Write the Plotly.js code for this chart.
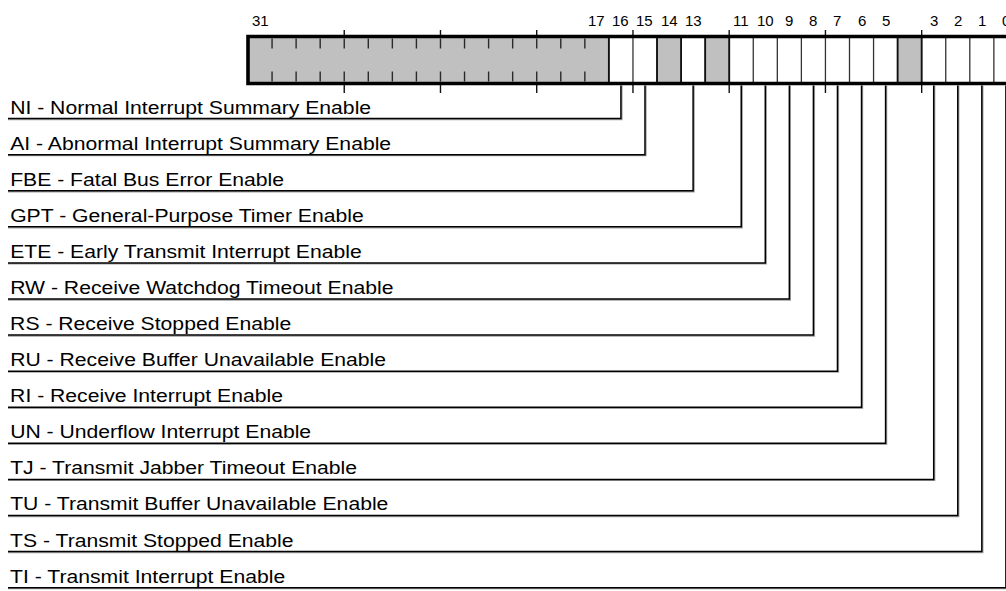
<!DOCTYPE html>
<html>
<head>
<meta charset="utf-8">
<script src="https://cdn.plot.ly/plotly-3.0.1.min.js"></script>
<style>
html,body{margin:0;padding:0;background:#fff;}
#chart{width:1006px;height:591px;}
</style>
</head>
<body>
<div id="chart"></div>
<script>
// ---- data ----
const bitLabels = [31, 17, 16, 15, 14, 13, 11, 10, 9, 8, 7, 6, 5, 3, 2, 1, 0];
const reservedRanges = [[17, 31], [14, 14], [12, 12], [4, 4]];
const fieldNames = [
  "NI - Normal Interrupt Summary Enable",
  "AI - Abnormal Interrupt Summary Enable",
  "FBE - Fatal Bus Error Enable",
  "GPT - General-Purpose Timer Enable",
  "ETE - Early Transmit Interrupt Enable",
  "RW - Receive Watchdog Timeout Enable",
  "RS - Receive Stopped Enable",
  "RU - Receive Buffer Unavailable Enable",
  "RI - Receive Interrupt Enable",
  "UN - Underflow Interrupt Enable",
  "TJ - Transmit Jabber Timeout Enable",
  "TU - Transmit Buffer Unavailable Enable",
  "TS - Transmit Stopped Enable",
  "TI - Transmit Interrupt Enable"
];
const fieldBits = [16, 15, 13, 11, 10, 9, 8, 7, 6, 5, 3, 2, 1, 0];

// ---- layout constants ----
const W = 24.06;          // pixel width of one bit cell
const X0 = 248;           // pixel x of the left edge of bit 31
const BOX_TOP = 36.5, BOX_BOT = 83.5;
const ROW0 = 118.6, ROW_STEP = 36.08;
const TEXT_X = 9;
function uOf(px) { return 32 - (px - X0) / W; }
const pxU = 1 / W;

const shapes = [];
// gray reserved fills
const edgesOfGray = new Set();
reservedRanges.forEach(([lo, hi]) => {
  edgesOfGray.add(lo); edgesOfGray.add(hi + 1);
  shapes.push({type: 'rect', xref: 'x', yref: 'y', x0: hi + 1, x1: lo, y0: BOX_TOP, y1: BOX_BOT,
    fillcolor: '#c0c0c0', line: {width: 0}, layer: 'below'});
});
// dividers
const grayLo = reservedRanges[0][0];
for (let u = 1; u <= 31; u++) {
  if (u <= grayLo) {
    shapes.push({type: 'line', xref: 'x', yref: 'y', x0: u, x1: u, y0: BOX_TOP, y1: BOX_BOT,
      line: {color: edgesOfGray.has(u) ? '#111' : '#333', width: edgesOfGray.has(u) ? 1.9 : 1.3}});
  } else {
    shapes.push({type: 'line', xref: 'x', yref: 'y', x0: u, x1: u, y0: BOX_TOP + 2, y1: BOX_TOP + 12,
      line: {color: '#2a2a2a', width: 1.4}});
    shapes.push({type: 'line', xref: 'x', yref: 'y', x0: u, x1: u, y0: BOX_BOT - 12, y1: BOX_BOT - 2,
      line: {color: '#2a2a2a', width: 1.4}});
  }
}
// major ticks every 4 bits
for (let u = 4; u < 32; u += 4) {
  shapes.push({type: 'line', xref: 'x', yref: 'y', x0: u, x1: u, y0: 30, y1: BOX_TOP,
    line: {color: '#111', width: 1.4}});
  shapes.push({type: 'line', xref: 'x', yref: 'y', x0: u, x1: u, y0: BOX_BOT, y1: 93,
    line: {color: '#111', width: 1.4}});
}
// outer box
shapes.push({type: 'rect', xref: 'x', yref: 'y', x0: 32, x1: 0, y0: BOX_TOP, y1: BOX_BOT,
  line: {color: '#000', width: 3.6}, fillcolor: 'rgba(0,0,0,0)'});

// leader lines
const lx = [], ly = [], sx = [], sy = [];
fieldBits.forEach((b, i) => {
  const y = ROW0 + i * ROW_STEP;
  const xc = b + 0.5;
  lx.push(uOf(TEXT_X - 1), xc, xc, null);
  ly.push(y, y, BOX_BOT + 2, null);
  sx.push(uOf(TEXT_X - 1), xc - pxU, xc - pxU, null);
  sy.push(y + 1, y + 1, BOX_BOT + 2, null);
});
const traces = [
  {x: sx, y: sy, mode: 'lines', line: {color: '#a0a0a0', width: 1.3}, hoverinfo: 'skip', showlegend: false},
  {x: lx, y: ly, mode: 'lines', line: {color: '#000', width: 1.5}, hoverinfo: 'skip', showlegend: false}
];

const annotations = [];
fieldNames.forEach((name, i) => {
  annotations.push({xref: 'x', yref: 'y', x: uOf(TEXT_X - 1), y: ROW0 + i * ROW_STEP - 11,
    text: name, showarrow: false, xanchor: 'left', yanchor: 'middle',
    font: {family: 'Liberation Sans, Arial, sans-serif', size: 17.5, color: '#000'}});
});
bitLabels.forEach(b => {
  annotations.push({xref: 'x', yref: 'y', x: b + 0.5, y: 20, text: String(b), showarrow: false,
    xanchor: 'center', yanchor: 'middle',
    font: {family: 'Liberation Sans, Arial, sans-serif', size: 15, color: '#000'}});
});

const layout = {
  width: 1006, height: 591,
  margin: {l: 0, r: 0, t: 0, b: 0},
  paper_bgcolor: '#fff', plot_bgcolor: '#fff',
  xaxis: {range: [uOf(0), uOf(1006)], visible: false, showgrid: false, zeroline: false, fixedrange: true},
  yaxis: {range: [591, 0], visible: false, showgrid: false, zeroline: false, fixedrange: true},
  shapes: shapes,
  annotations: annotations,
  showlegend: false
};

Plotly.newPlot('chart', traces, layout, {staticPlot: true}).then(() => {
  // stretch the field-name texts horizontally to match the reference's wide lettering
  const S = 1.21;
  document.querySelectorAll('#chart .annotation').forEach(g => {
    const idx = +g.getAttribute('data-index');
    if (idx < fieldNames.length) {
      const t = g.querySelector('text.annotation-text');
      if (t) {
        const left = t.getBBox().x;
        t.setAttribute('transform', 'matrix(' + S + ',0,0,1,' + ((1 - S) * left) + ',0)');
      }
    }
  });
});
</script>
</body>
</html>
